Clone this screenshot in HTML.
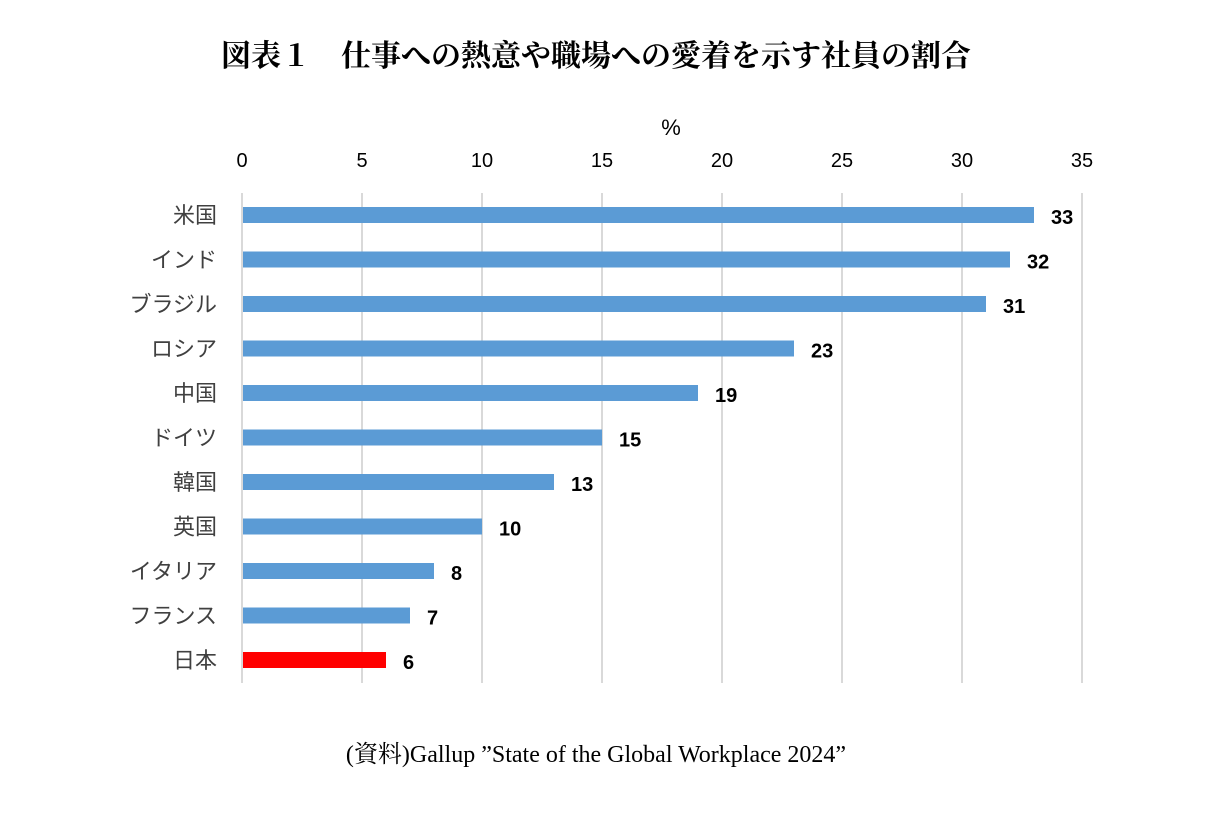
<!DOCTYPE html>
<html><head><meta charset="utf-8"><style>
body{margin:0;background:#fff;width:1214px;height:810px;overflow:hidden}
svg text{font-family:"Liberation Sans","Noto Sans CJK JP",sans-serif}
</style></head><body>
<svg width="1214" height="810">
<text x="596" y="66" text-anchor="middle" font-size="30" font-weight="bold" style="font-family:'Liberation Serif','Noto Serif CJK SC',serif">図表１　仕事への熱意や職場への愛着を示す社員の割合</text>
<text x="671" y="135" text-anchor="middle" font-size="22">%</text>
<g id="grid"></g><g id="bars"></g>
<text x="596" y="762" text-anchor="middle" font-size="24" style="font-family:'Liberation Serif','Noto Serif CJK JP',serif">(資料)Gallup ”State of the Global Workplace 2024”</text>
</svg>
<script>
const categories=["米国","インド","ブラジル","ロシア","中国","ドイツ","韓国","英国","イタリア","フランス","日本"];
const values=[33,32,31,23,19,15,13,10,8,7,6];
const ticks=[0,5,10,15,20,25,30,35];
const NS="http://www.w3.org/2000/svg";
const x=v=>242+v*24;
const y=i=>215+i*44.5;
function mk(t,a,p,txt){const e=document.createElementNS(NS,t);for(const k in a)e.setAttribute(k,a[k]);if(txt!=null)e.textContent=txt;p.appendChild(e);return e;}
const g=document.getElementById('grid'),b=document.getElementById('bars');
ticks.forEach(t=>{
 const l=mk('line',{x1:x(t),x2:x(t),y1:193,y2:683,stroke:'#d9d9d9','stroke-width':2},g);
 
 
 const tx=mk('text',{x:x(t),y:167,'text-anchor':'middle','font-size':20,fill:'#000'},g,t);
 
 
});
categories.forEach((c,i)=>{
 const r=mk('rect',{x:x(0)+1,y:y(i)-8,width:x(values[i])-x(0)-1,height:16,fill:c==="日本"?'#ff0000':'#5b9bd5'},b);
 
 
 const lb=mk('text',{x:217,y:y(i)+8,'text-anchor':'end','font-size':22,fill:'#404040'},b,c);
 
 
 const v=mk('text',{x:x(values[i])+17,y:y(i)+9,'font-size':20,'font-weight':'bold',fill:'#000'},b,values[i]);
 
 
});
</script>
</body></html>
